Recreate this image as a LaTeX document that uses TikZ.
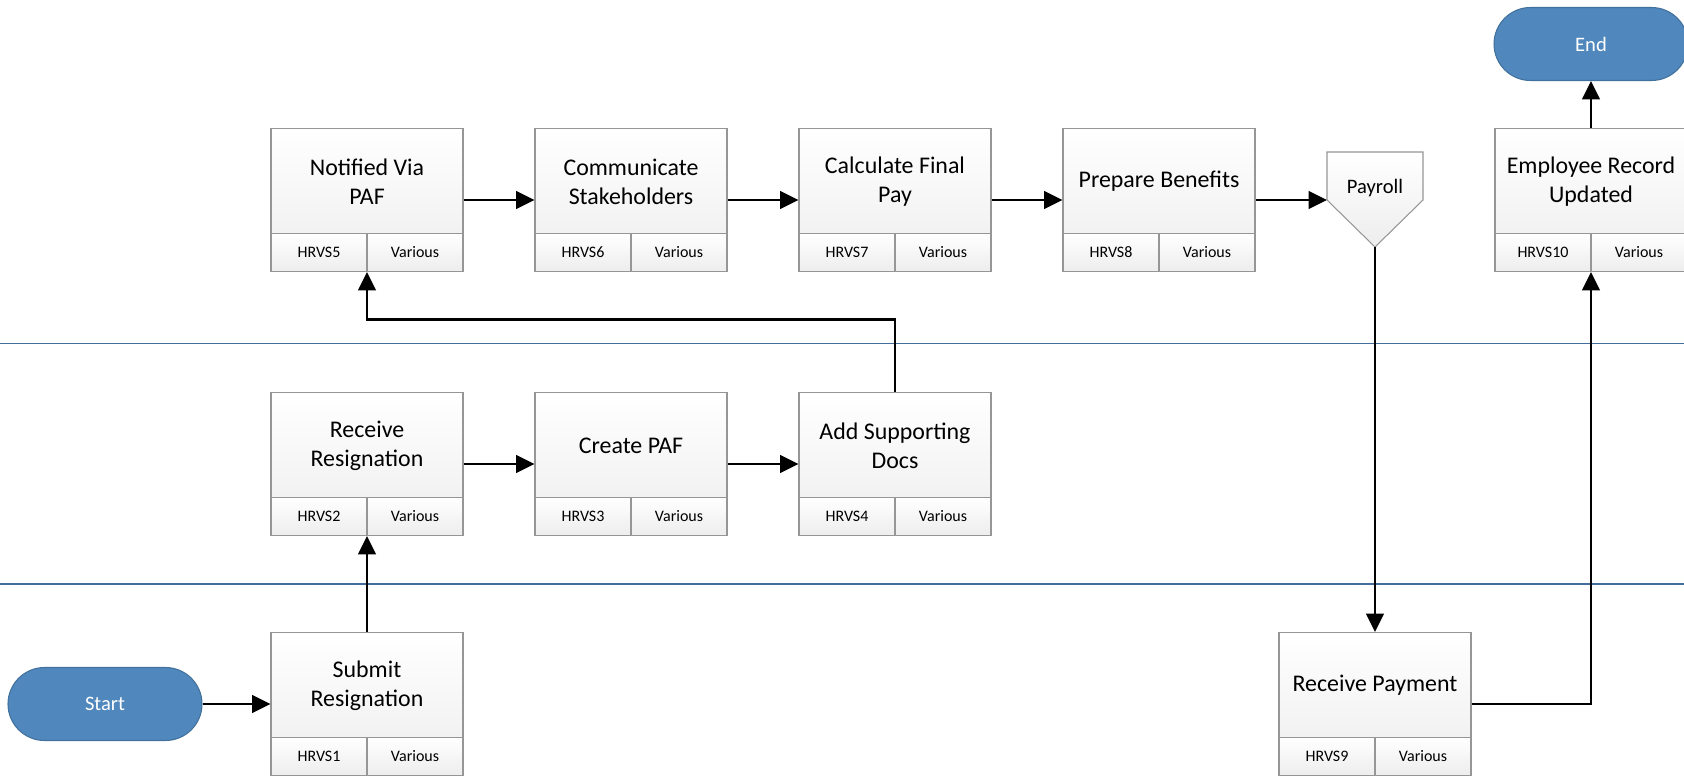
\documentclass[tikz,border=0pt]{standalone}
\usepackage{fontspec}
\setmainfont{Carlito}
\usepackage{xcolor}
\usepackage{tikz}
\usetikzlibrary{arrows.meta}
\definecolor{TermBlue}{RGB}{80,135,188}
\definecolor{TermEdge}{RGB}{65,113,156}
\definecolor{LaneBlue}{RGB}{65,112,158}
\definecolor{BoxEdge}{RGB}{150,150,150}

\begin{document}
\begin{tikzpicture}[
          pbox/.style={rectangle, draw=BoxEdge, line width=0.6pt, top color=white,
                       bottom color=black!7, minimum width=3.84cm, minimum height=2.86cm,
                       inner sep=0pt},
          ptext/.style={align=center, font=\fontsize{13.6}{16.4}\selectfont},
          pcell/.style={rectangle, draw=BoxEdge, line width=0.6pt, top color=white,
                        bottom color=black!7, minimum width=1.92cm, minimum height=0.76cm,
                        inner sep=0pt, font=\fontsize{9.1}{10}\selectfont},
          term/.style={rectangle, rounded corners=0.73cm, fill=TermBlue, draw=TermEdge,
                       line width=0.6pt, minimum width=3.88cm, minimum height=1.46cm,
                       text=white, font=\fontsize{11.7}{14}\selectfont},
          lane/.style={draw=LaneBlue, line width=1.1pt},
          arr/.style={-{Triangle[length=10.5pt, width=10pt]}, line width=1.5pt}
        ]
        \useasboundingbox (0,0) rectangle (33.68,15.52);

        % swimlanes
        \draw[lane] (0,8.65) -- (33.68,8.65);
        \draw[lane] (0,3.84) -- (33.68,3.84);

        % process boxes
        \foreach \n/\x/\y/\t/\c in {
            submit/7.34/1.44/{Submit\\Resignation}/1,
            resig/7.34/6.24/{Receive\\Resignation}/2,
            paf/12.62/6.24/{Create PAF}/3,
            docs/17.90/6.24/{Add Supporting\\Docs}/4,
            notify/7.34/11.52/{Notified Via\\PAF}/5,
            stake/12.62/11.52/{Communicate\\Stakeholders}/6,
            final/17.90/11.52/{Calculate Final\\Pay}/7,
            bene/23.18/11.52/{Prepare Benefits}/8,
            recv/27.50/1.44/{Receive Payment}/9,
            emp/31.82/11.52/{Employee Record\\Updated}/10} {
          \node[pbox] (\n) at (\x,\y) {};
          \node[ptext] (\n-t) at ([yshift=-1.07cm]\n.north) {\t};
          \node[pcell, anchor=south west] (\n-id) at (\n.south west) {HRVS\c};
          \node[pcell, anchor=south east] (\n-who) at (\n.south east) {Various};
        }

        % terminators
        \node[term] (start) at (2.10,1.44) {Start};
        \node[term] (end) at (31.82,14.64) {End};

        % payroll connector
        \draw[draw=BoxEdge, line width=0.6pt, top color=white, bottom color=black!7]
          (26.54,12.48) -- (28.46,12.48) -- (28.46,11.52) -- (27.50,10.58)
          -- (26.54,11.52) -- cycle;
        \node[font=\fontsize{11.7}{14}\selectfont] (pay) at (27.50,11.76) {Payroll};
        \coordinate (pay-in) at (26.54,11.52);
        \coordinate (pay-out) at (27.50,10.58);

        \foreach \a/\b in {start/submit, submit/resig, resig/paf, paf/docs,
                           notify/stake, stake/final, final/bene, emp/end} {
          \draw[arr] (\a) -- (\b);
        }
        \draw[arr] (bene) -- (pay-in);
        \draw[arr] (pay-out) -- (recv);
        \draw[arr] (recv) -| (emp);
        \draw[arr] (docs.north) -- ++(0,1.45) -| (notify);
      \end{tikzpicture}
\end{document}
